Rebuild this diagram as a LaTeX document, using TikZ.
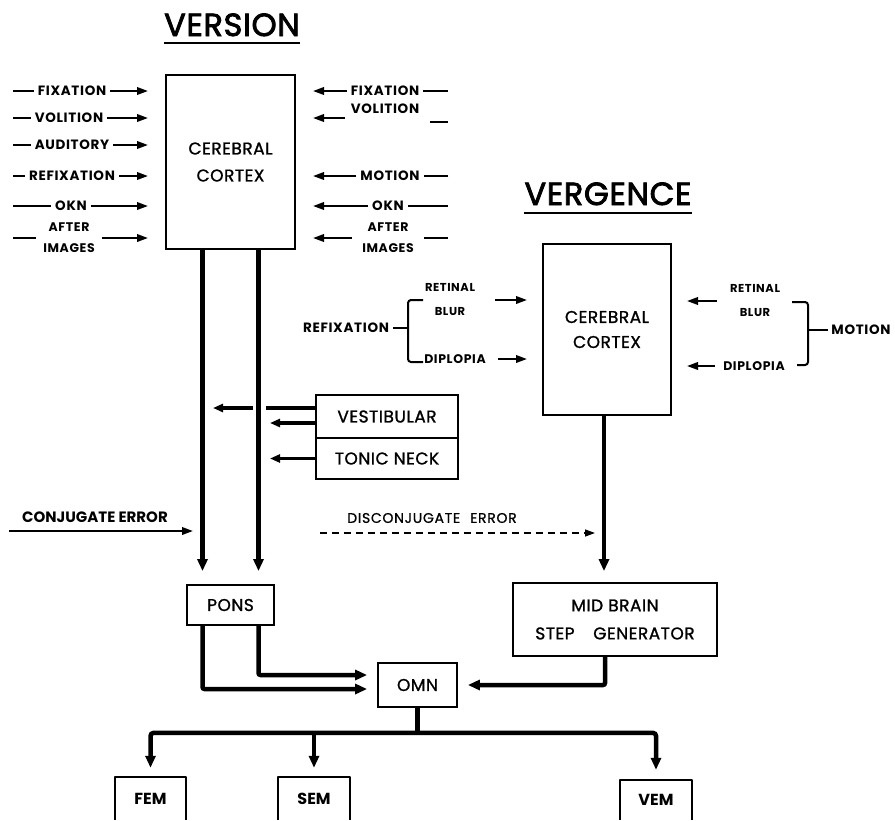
\documentclass[tikz,border=0pt]{standalone}
\usepackage{fontspec}
\setmainfont{Poppins}
\newfontfamily\labfont[LetterSpace=5]{Poppins}
\newfontfamily\boxfont[LetterSpace=3,FakeBold=1.2]{Poppins}
\newfontfamily\titfont[LetterSpace=2,FakeBold=2.5]{Poppins}
\newfontfamily\dcfont[LetterSpace=5,FakeBold=0.8]{Poppins}
\usetikzlibrary{arrows.meta}
\newcommand\Lin[4]{%
  \node[lab] (#1) at (#3,#2) {#4};
  \coordinate (#1s) at (13,#2);
  \coordinate (#1e) at (148,#2);
  \draw[inl] (#1s) -- (#1.west);
  \draw[ina] (#1.east) -- (#1e);}
\newcommand\Rin[4]{%
  \node[lab] (#1) at (#3,#2) {#4};
  \coordinate (#1s) at (448,#2);
  \coordinate (#1e) at (313,#2);
  \draw[inl] (#1s) -- (#1.east);
  \draw[ina] (#1.west) -- (#1e);}
\begin{document}
\begin{tikzpicture}[x=1pt,y=-1pt,
  box/.style={draw,line width=1.8pt,inner sep=0pt,align=center,font=\boxfont\fontsize{17}{27}\selectfont},
  lab/.style={font=\labfont\fontsize{13.5}{14}\selectfont\bfseries,inner sep=4pt},
  lab2/.style={font=\labfont\fontsize{12.5}{21}\selectfont\bfseries,inner sep=4pt,align=center},
  inl/.style={line width=2pt},
  ina/.style={line width=2pt,-{Triangle[length=11pt,width=7.5pt]}},
  thk/.style={line width=4.5pt},
  thka/.style={line width=4.5pt,-{Triangle[length=12pt,width=10pt]}},
  hza/.style={line width=3.5pt,-{Triangle[length=10pt,width=8pt]}},
  title/.style={font=\titfont\fontsize{32}{32}\selectfont,inner sep=0pt,anchor=base},
  embox/.style={minimum width=71,minimum height=43,inner sep=0pt,font=\fontsize{16}{16}\selectfont\bfseries}]
\useasboundingbox (0,0) rectangle (895,820);
\fill[white] (0,0) rectangle (895,820);

% titles
\node[title] (tver) at (232,36) {VERSION};
\draw[line width=2pt] ([yshift=-7pt]tver.base west) -- ([yshift=-7pt]tver.base east);
\node[title] (tverg) at (608,205) {VERGENCE};
\draw[line width=2pt] ([yshift=-8pt]tverg.base west) -- ([yshift=-8pt]tverg.base east);

% version cortex
\node[box,minimum width=129,minimum height=174] (ccL) at (230.5,162) {CEREBRAL\\CORTEX};

\Lin{lfix}{91}{72}{FIXATION}
\Lin{lvol}{118}{69}{VOLITION}
\Lin{laud}{145}{72}{AUDITORY}
\Lin{lref}{176}{72}{REFIXATION}
\Lin{lokn}{206}{71}{OKN}
\node[lab2,inner xsep=7pt] (lai) at (69,238) {AFTER\\IMAGES};
\coordinate (lais) at (13,238);
\coordinate (laie) at (148,238);
\draw[inl] (lais) -- (lai.west);
\draw[ina] (lai.east) -- (laie);

\Rin{rfix}{91}{385}{FIXATION}
\Rin{rmot}{176}{390}{MOTION}
\Rin{rokn}{206}{388}{OKN}
\node[lab] (rvol) at (385,109) {VOLITION};
\coordinate (rvs) at (345,118);
\coordinate (rve) at (313,118);
\draw[ina] (rvs) -- (rve);
\coordinate (rvt1) at (430,122);
\coordinate (rvt2) at (448,122);
\draw[inl] (rvt1) -- (rvt2);
\node[lab2,inner xsep=10pt] (rai) at (388,238) {AFTER\\IMAGES};
\coordinate (rais) at (448,238);
\coordinate (raie) at (313,238);
\draw[inl] (rais) -- (rai.east);
\draw[ina] (rai.west) -- (raie);

% vergence cortex
\node[box,minimum width=128,minimum height=171,font=\boxfont\fontsize{17}{25}\selectfont] (ccR) at (607,329.5) {CEREBRAL\\CORTEX};

\node[lab] (vrefix) at (346,328) {REFIXATION};
\coordinate (bl1) at (423,300);
\coordinate (bl2) at (408,300);
\coordinate (bl3) at (408,362);
\coordinate (bl4) at (423,362);
\draw[inl] (vrefix.east) -- (vrefix.east -| bl2);
\draw[inl,rounded corners=3pt] (bl1) -- (bl2) -- (bl3) -- (bl4);
\node[lab2,font=\labfont\fontsize{11.5}{24}\selectfont\bfseries] (rbL) at (450,299) {RETINAL\\BLUR};
\coordinate (rbl1) at (495,300);
\coordinate (rbl2) at (527,300);
\draw[ina] (rbl1) -- (rbl2);
\node[lab,font=\labfont\fontsize{12.5}{13}\selectfont\bfseries] (dpL) at (455,359) {DIPLOPIA};
\coordinate (dpl1) at (498,359);
\coordinate (dpl2) at (527,359);
\draw[ina] (dpl1) -- (dpl2);

\node[lab2,font=\labfont\fontsize{11.5}{24}\selectfont\bfseries] (rbR) at (755,300) {RETINAL\\BLUR};
\coordinate (rbr1) at (717,301);
\coordinate (rbr2) at (687,301);
\draw[ina] (rbr1) -- (rbr2);
\node[lab,font=\labfont\fontsize{12.5}{13}\selectfont\bfseries] (dpR) at (754,366) {DIPLOPIA};
\coordinate (dpr1) at (715,366);
\coordinate (dpr2) at (687,366);
\draw[ina] (dpr1) -- (dpr2);
\coordinate (br1) at (792,302);
\coordinate (br2) at (808,302);
\coordinate (br3) at (808,365);
\coordinate (br4) at (797,365);
\draw[inl,rounded corners=3pt] (br1) -- (br2) -- (br3) -- (br4);
\node[lab,inner sep=3pt] (mot) at (861,330) {MOTION};
\coordinate (bm) at (808,330);
\draw[inl] (bm) -- (mot.west);

% vestibular / tonic neck
\node[box,minimum width=142,minimum height=43] (vest) at (387,416.5) {VESTIBULAR};
\node[box,minimum width=142,minimum height=41] (tonic) at (387,458.5) {TONIC NECK};
\coordinate (va) at ([yshift=8.5pt]vest.west);
\coordinate (vb) at (266,408);
\coordinate (vc) at (253,408);
\coordinate (vd) at (213,408);
\draw[line width=3.5pt] (va) -- (vb);
\draw[hza] (vc) -- (vd);
\coordinate (ve) at ([yshift=-6.5pt]vest.west);
\coordinate (vf) at (270,423);
\draw[hza] (ve) -- (vf);
\coordinate (tf) at (270,458.5);
\draw[hza] (tonic.west) -- (tf);

% errors
\node[font=\fontsize{15}{15}\selectfont\bfseries,inner sep=0pt] (ce) at (95,517) {CONJUGATE ERROR};
\coordinate (ce1) at (9,531);
\coordinate (ce2) at (193,531);
\draw[ina] (ce1) -- (ce2);
\node[font=\dcfont\fontsize{14}{14}\selectfont,inner sep=0pt] (dce) at (432,518) {DISCONJUGATE\hspace{0.4em} ERROR};
\coordinate (dc1) at (320,533);
\coordinate (dc2) at (595,533);
\draw[line width=1.4pt,dash pattern=on 7pt off 5pt,-{Triangle[length=10pt,width=7pt]}] (dc1) -- (dc2);

% pons, omn, mid brain
\node[box,minimum width=87,minimum height=40] (pons) at (230.5,605) {PONS};
\node[box,minimum width=79,minimum height=44] (omn) at (417.5,685) {OMN};
\node[box,minimum width=204,minimum height=73,font=\boxfont\fontsize{17}{28}\selectfont] (mb) at (615,619.5) {MID BRAIN\\STEP\hspace{1.1em}GENERATOR};

\coordinate (v1) at ([xshift=-28pt]ccL.south);
\coordinate (v2) at ([xshift=28pt]ccL.south);
\draw[thka,shorten >=13pt] (v1) -- (v1 |- pons.north);
\draw[thka,shorten >=13pt] (v2) -- (v2 |- pons.north);
\coordinate (r1) at ([xshift=-3pt]ccR.south);
\draw[thka,shorten >=11pt] (r1) -- (r1 |- mb.north);

\coordinate (p1) at ([xshift=-28pt]pons.south);
\coordinate (p2) at ([xshift=28pt]pons.south);
\coordinate (o1) at ([yshift=-4pt]omn.west);
\coordinate (o2) at ([yshift=10pt]omn.west);
\draw[thka,shorten >=10pt,rounded corners=2pt] (p1) |- (o1);
\draw[thka,shorten >=10pt,rounded corners=2pt] (p2) |- (o2);
\coordinate (m1) at ([xshift=-10pt]mb.south);
\draw[thka,shorten >=10pt,rounded corners=2pt] (m1) |- (omn.east);

% outputs
\node[embox] (fem) at (150.5,798.5) {FEM};
\node[embox,minimum width=72] (sem) at (314,798.5) {SEM};
\node[embox,minimum width=72,minimum height=40] (vem) at (656,800) {VEM};
\foreach \b in {fem,sem,vem}
  \draw[line width=2pt,line join=round] (\b.south west) -- (\b.north west) -- (\b.north east) -- (\b.south east);
\coordinate (bj) at ([yshift=-25pt]omn.south);
\draw[thk] (omn.south) -- (bj);
\draw[thka,shorten >=9pt,rounded corners=3pt] (bj) -| (fem.north);
\draw[thka,shorten >=9pt] (bj) -| (sem.north);
\draw[thka,shorten >=10pt,rounded corners=3pt] (bj) -| (vem.north);
\end{tikzpicture}
\end{document}
